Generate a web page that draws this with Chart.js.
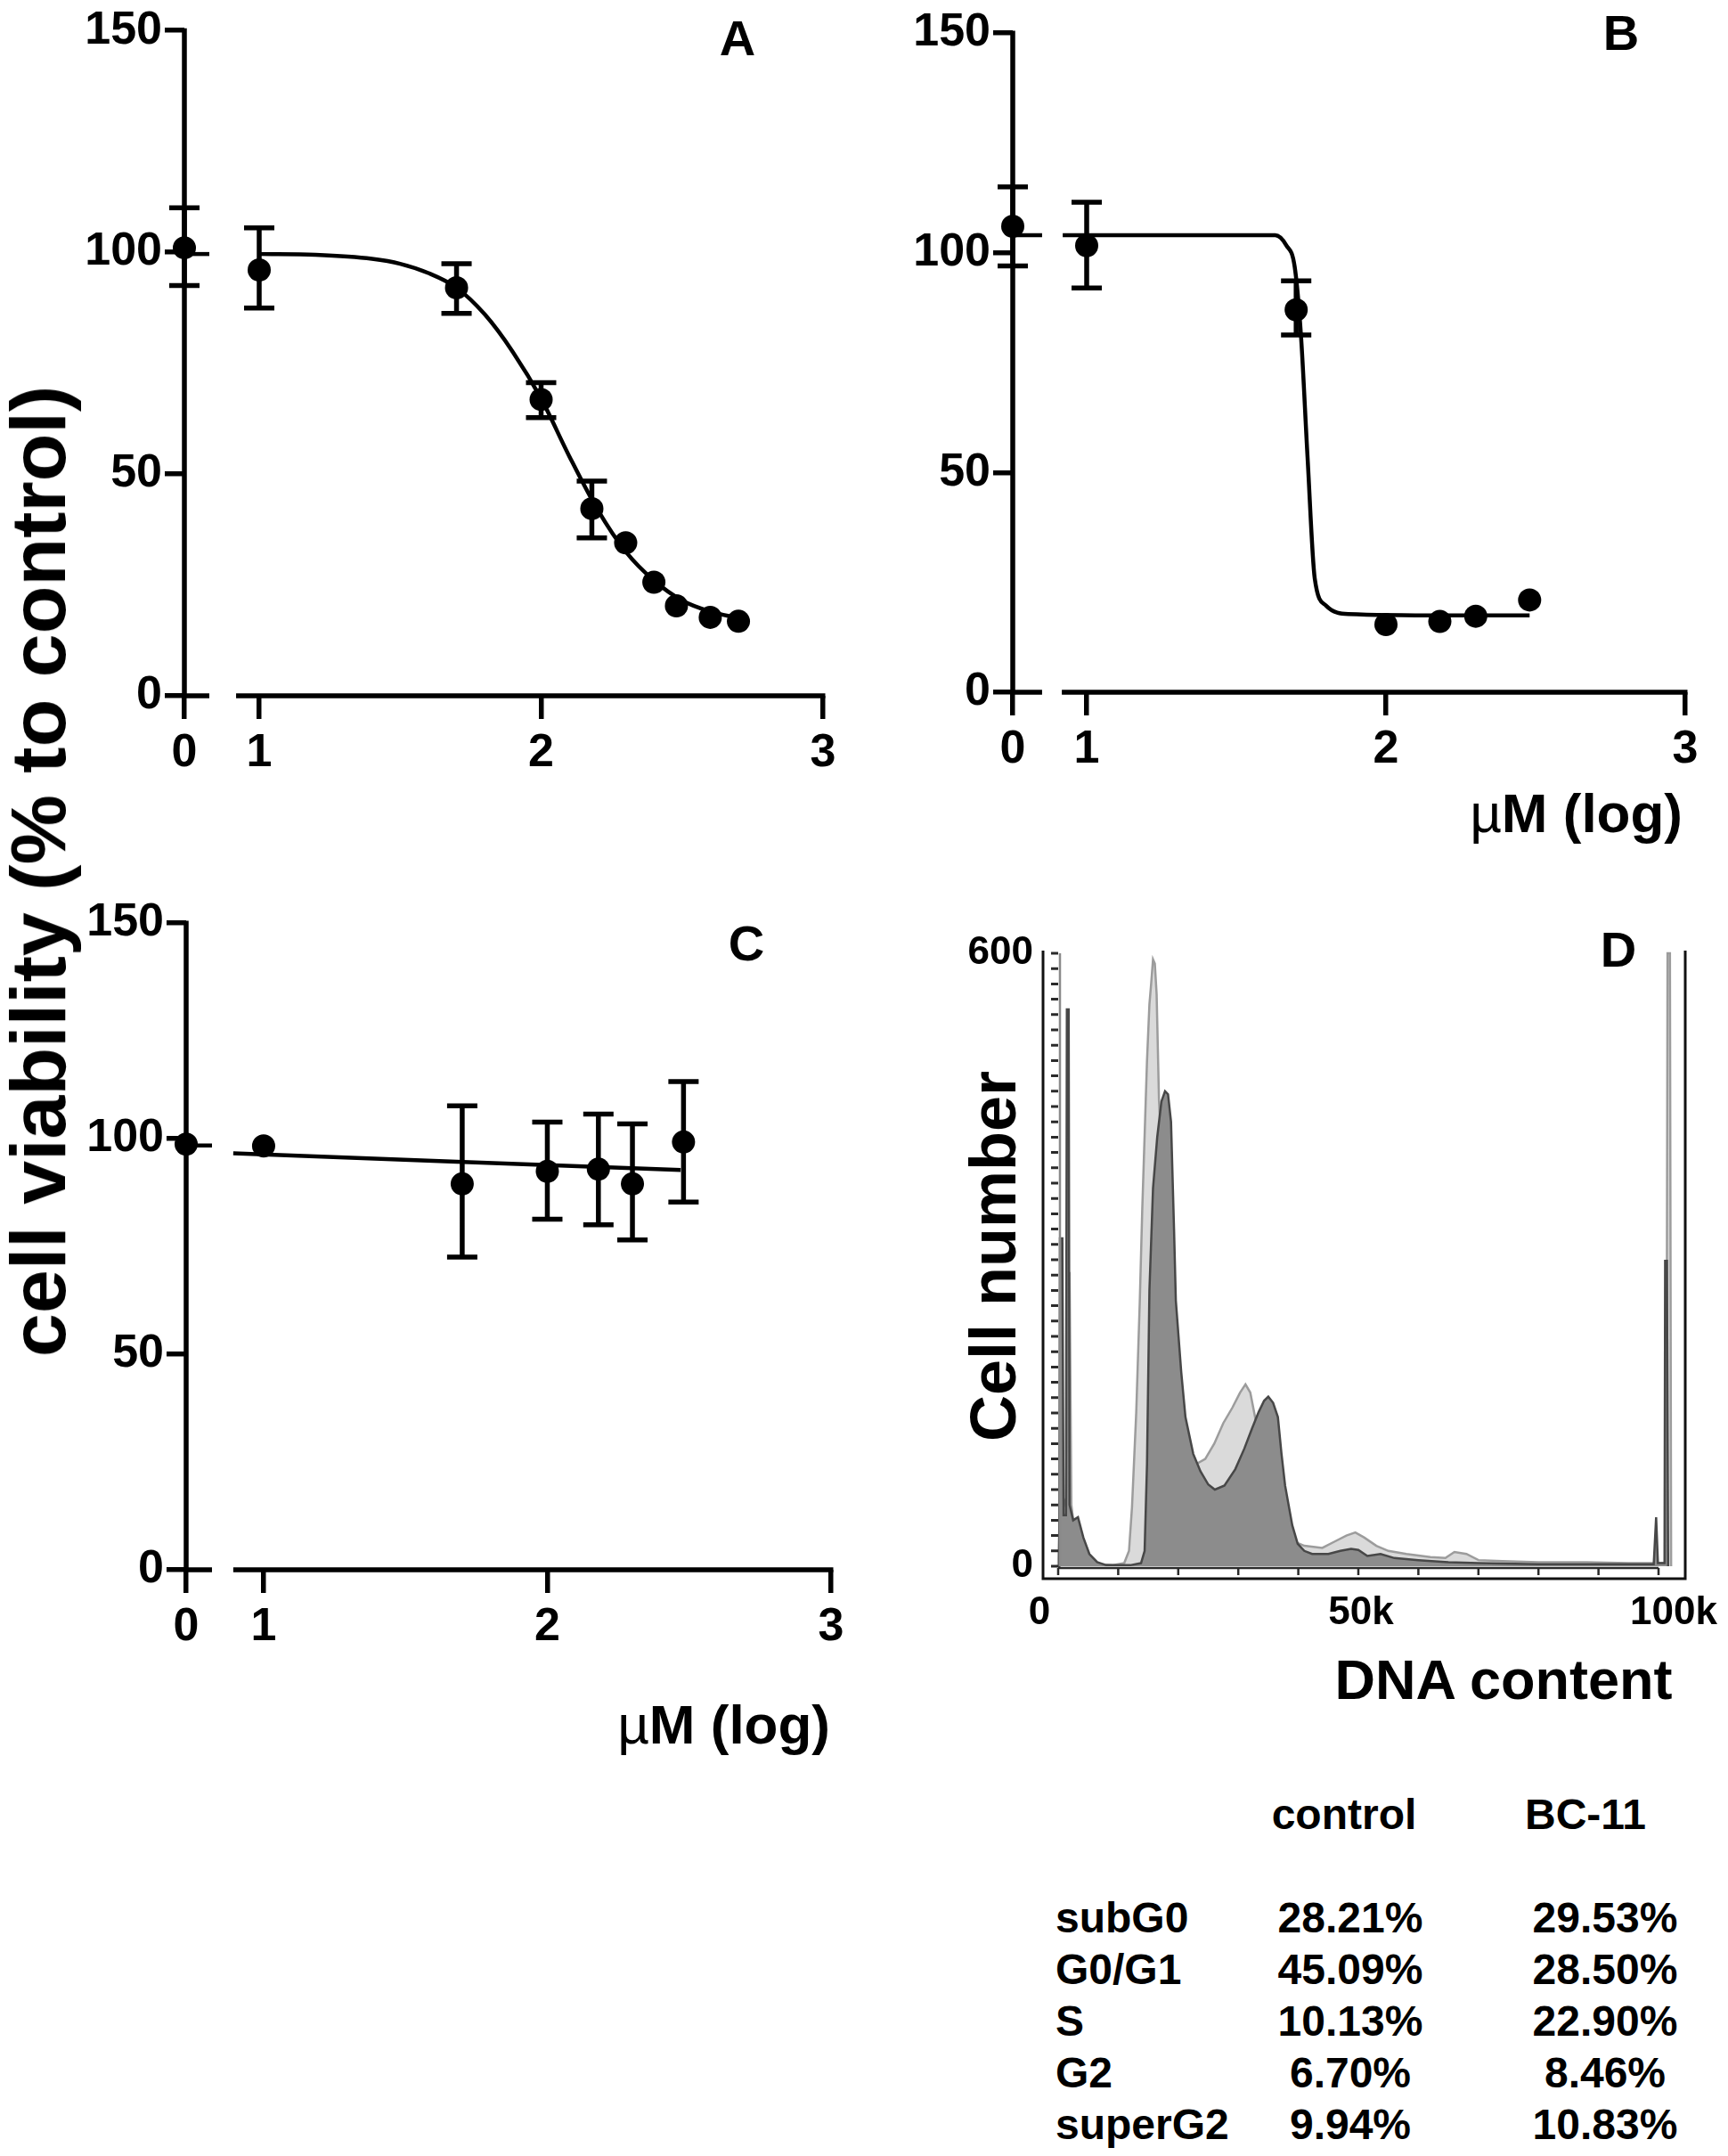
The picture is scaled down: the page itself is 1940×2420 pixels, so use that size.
<!DOCTYPE html>
<html>
<head>
<meta charset="utf-8">
<script src="https://cdn.jsdelivr.net/npm/chart.js@4.4.1/dist/chart.umd.min.js"></script>
<style>
html, body { margin: 0; padding: 0; background: #fff; }
#fig { position: relative; width: 1940px; height: 2420px; overflow: hidden;
       font-family: "Liberation Sans", Arial, sans-serif; font-weight: bold; color: #000; }
#fig canvas { position: absolute; }
.t { position: absolute; white-space: nowrap; line-height: 1; }
</style>
</head>
<body>
<div id="fig">
  <canvas id="cA" width="970" height="900" style="left:0;top:0"></canvas>
  <canvas id="cB" width="970" height="960" style="left:970px;top:0"></canvas>
  <canvas id="cC" width="970" height="1000" style="left:0;top:980px"></canvas>
  <canvas id="cD" width="860" height="880" style="left:1080px;top:1000px"></canvas>
</div>
<script>
// ---------- data ----------
// panel A  (x = log uM, 0 = untreated)
const doseA = [0, 1, 1.7, 2, 2.18, 2.3, 2.4, 2.48, 2.6, 2.7];
const viabA = [101, 96, 92, 66.8, 42.2, 34.5, 25.6, 20.3, 17.7, 16.8];
const hiA   = [110, 105.5, 97.4, 70.6, 48.4, null, null, null, null, null];
const loA   = [92.5, 87.4, 86.2, 62.7, 35.6, null, null, null, null, null];
const fitDoseA = [1.0, 1.2, 1.4, 1.5, 1.6, 1.7, 1.8, 1.9, 2.0, 2.1, 2.2, 2.3, 2.4, 2.5, 2.6, 2.7];
const fitViabA = [99.6, 99.4, 98.5, 97.4, 95.3, 92, 86, 77.5, 67, 54, 42, 32.5, 26, 21.5, 19, 17.5];
const fitZeroA = 99.6;

// panel B
const doseB = [0, 1, 1.7, 2, 2.18, 2.3, 2.48];
const viabB = [106, 101.6, 87, 15.4, 16.1, 17.3, 21];
const hiB   = [115, 111.5, 93.6, null, null, null, null];
const loB   = [97, 92, 81.3, null, null, null, null];
const fitDoseB = [0.92, 1.3, 1.63, 1.667, 1.695, 1.716, 1.738, 1.762, 1.8, 1.874, 2.2, 2.48];
const fitViabB = [104, 104, 104, 101.7, 96.8, 81.2, 53.5, 25.9, 19.7, 17.8, 17.5, 17.5];
const fitZeroB = 104;

// panel C
const doseC = [0, 1, 1.7, 2, 2.18, 2.3, 2.48];
const viabC = [98.7, 98.3, 89.5, 92.4, 92.9, 89.5, 99.2];
const hiC   = [null, null, 107.6, 103.8, 105.7, 103.4, 113.2];
const loC   = [null, null, 72.5, 81.3, 80, 76.5, 85.3];
const fitDoseC = [0.893, 2.47];
const fitViabC = [96.6, 92.7];
const fitZeroC = 98.4;

const viabTicks = [0, 50, 100, 150];
const doseTicks = [0, 1, 2, 3];

// panel D  histograms (x = DNA content in k, y = cell number)
const lightX = [0, 0.3, 0.5, 1.0, 1.5, 1.9, 2.2, 2.6, 3.3, 4.2, 5.5, 7, 9, 11, 11.8, 12.3, 13, 13.6, 14, 14.5,
  14.8, 15.2, 15.5, 15.8, 16.1, 16.4, 16.8, 17.3, 18, 19, 20, 21.5, 23, 24.5, 26, 27.5, 29, 30.3, 31.2, 32,
  33, 34, 35.5, 37, 39, 41, 44, 46, 48, 49.5, 51, 53, 55, 58, 62, 64.5, 66, 68, 70, 74, 80, 88, 95, 99.5,
  101.3, 101.5, 101.9, 102.1];
const lightY = [0, 60, 80, 60, 70, 288, 60, 40, 38, 20, 6, 2, 1, 3, 15, 58, 150, 260, 348, 440,
  495, 550, 571, 594, 590, 560, 455, 400, 320, 220, 160, 118, 100, 105, 120, 140, 155, 170, 178, 170,
  140, 100, 60, 38, 25, 20, 18, 24, 30, 33, 28, 20, 15, 12, 9, 8, 14, 12, 6, 5, 4, 4, 3, 3,
  3, 600, 600, 0];
const darkX = [0, 0.2, 0.3, 0.7, 0.9, 1.3, 1.45, 1.75, 1.9, 2.5, 3.3, 4.2, 5.2, 6.5, 8, 12, 13.8, 14.4, 14.8, 15.2,
  15.8, 16.5, 17.2, 17.8, 18.3, 18.8, 19.3, 19.6, 20.5, 21.2, 22.5, 23.7, 25, 26.1, 27.7, 29.5, 31, 32.3, 33.4, 34.3,
  35, 35.8, 36.6, 37.2, 37.8, 39, 39.9, 41, 42.3, 45, 47, 48.8, 50, 51.5, 53.7, 56, 60, 65, 70, 80,
  90, 99.2, 99.6, 99.9, 101, 101.1, 101.4, 101.6];
const darkY = [0, 0, 321, 321, 50, 50, 545, 545, 60, 45, 48, 28, 12, 4, 1, 1, 3, 15, 100, 270,
  370, 420, 455, 465, 462, 435, 330, 260, 190, 146, 110, 93, 80, 75, 79, 95, 115, 135, 151, 162,
  166, 160, 146, 110, 79, 40, 22, 15, 12, 12, 15, 17, 16, 10, 12, 8, 6, 4, 3, 2,
  2, 2, 48, 3, 3, 299, 299, 0];
const cellTicks = [0, 600];
const dnaTicks = [0, 50, 100];
const dnaTickText = ['0', '50k', '100k'];

// cell cycle table
const phases = ['subG0', 'G0/G1', 'S', 'G2', 'superG2'];
const pctControl = [28.21, 45.09, 10.13, 6.70, 9.94];
const pctBC11 = [29.53, 28.50, 22.90, 8.46, 10.83];

// ---------- drawing ----------
Chart.defaults.font.family = '"Liberation Sans", Arial, sans-serif';
Chart.defaults.color = '#000';

// broken x axis + error bars for the dose-response panels
const brokenAxes = {
  id: 'brokenAxes',
  beforeDatasetsDraw(chart, args, o) {
    const { ctx, scales: { x, y } } = chart;
    const y0 = y.getPixelForValue(0);
    const xa = x.getPixelForValue(o.xb);
    ctx.save();
    ctx.strokeStyle = '#000';
    ctx.lineWidth = 5.5;
    ctx.beginPath();
    ctx.moveTo(xa, y.getPixelForValue(150) - 2.5);
    ctx.lineTo(xa, y0);
    ctx.moveTo(xa, y0);
    ctx.lineTo(x.getPixelForValue(o.stub), y0);
    ctx.moveTo(x.getPixelForValue(o.main), y0);
    ctx.lineTo(x.getPixelForValue(3) + 2.5, y0);
    ctx.stroke();

    const ds = chart.data.datasets[0];
    ctx.lineWidth = 5.5;
    ctx.beginPath();
    ds.data.forEach((p, i) => {
      if (ds.hi[i] == null) return;
      const px = x.getPixelForValue(p.x);
      const ph = y.getPixelForValue(ds.hi[i]);
      const pl = y.getPixelForValue(ds.lo[i]);
      ctx.moveTo(px, ph); ctx.lineTo(px, pl);
      ctx.moveTo(px - 17, ph); ctx.lineTo(px + 17, ph);
      ctx.moveTo(px - 17, pl); ctx.lineTo(px + 17, pl);
    });
    ctx.stroke();
    ctx.restore();
  }
};

function makeDose(id, g, dose, viab, hi, lo, fitX, fitY, fit0) {
  const px = v => (v === 0 ? g.xb : v);
  const pts = dose.map((v, i) => ({ x: px(v), y: viab[i] }));
  const fit = fitX.map((v, i) => ({ x: v, y: fitY[i] }));
  const stub = [{ x: g.xb, y: fit0 }, { x: g.stub, y: fit0 }];
  const tickFont = { size: 52, weight: 'bold' };
  return new Chart(document.getElementById(id), {
    type: 'scatter',
    data: {
      datasets: [
        { data: pts, pointRadius: 13, pointHoverRadius: 13, pointBackgroundColor: '#000',
          pointBorderWidth: 0, clip: false, hi: hi, lo: lo },
        { data: fit, showLine: true, pointRadius: 0, borderColor: '#000', borderWidth: 4.5,
          cubicInterpolationMode: 'monotone', clip: false },
        { data: stub, showLine: true, pointRadius: 0, borderColor: '#000', borderWidth: 4.5, clip: false }
      ]
    },
    options: {
      responsive: false,
      animation: false,
      devicePixelRatio: 1,
      layout: { padding: { left: 0, top: g.top, right: g.w - g.right, bottom: 0 } },
      plugins: { legend: { display: false }, tooltip: { enabled: false }, brokenAxes: g },
      scales: {
        x: {
          type: 'linear', min: g.xb, max: 3,
          afterBuildTicks: s => { s.ticks = doseTicks.map(v => ({ value: px(v) })); },
          afterFit: s => { s.height = g.h - g.bottom; },
          ticks: { callback: v => (v === g.xb ? '0' : String(v)), font: tickFont,
                   padding: 7, maxRotation: 0, autoSkip: false },
          grid: { drawOnChartArea: false, tickLength: 26, lineWidth: 5.5, color: '#000' },
          border: { display: false }
        },
        y: {
          min: 0, max: 150,
          afterBuildTicks: s => { s.ticks = viabTicks.map(v => ({ value: v })); },
          afterFit: s => { s.width = g.left; },
          ticks: { font: tickFont, padding: 3 },
          grid: { drawOnChartArea: false, tickLength: 22, lineWidth: 5.5, color: '#000' },
          border: { display: false }
        }
      }
    },
    plugins: [brokenAxes]
  });
}

makeDose('cA', { w: 970, h: 900, left: 207, top: 34, right: 924, bottom: 781,
                 xb: 0.7346, stub: 0.823, main: 0.918 },
         doseA, viabA, hiA, loA, fitDoseA, fitViabA, fitZeroA);
makeDose('cB', { w: 970, h: 960, left: 167, top: 37, right: 922, bottom: 777,
                 xb: 0.753, stub: 0.851, main: 0.917 },
         doseB, viabB, hiB, loB, fitDoseB, fitViabB, fitZeroB);
makeDose('cC', { w: 970, h: 1000, left: 209, top: 56, right: 933, bottom: 782,
                 xb: 0.727, stub: 0.818, main: 0.893 },
         doseC, viabC, hiC, loC, fitDoseC, fitViabC, fitZeroC);

// flow cytometry frame and inner axes
const flowAxes = {
  id: 'flowAxes',
  afterDatasetsDraw(chart, args, o) {
    const { ctx, chartArea: ca, scales: { x, y } } = chart;
    ctx.save();
    ctx.strokeStyle = '#111';
    ctx.lineWidth = 3;
    ctx.beginPath();
    ctx.moveTo(ca.left, ca.top); ctx.lineTo(ca.left, ca.bottom);
    ctx.lineTo(ca.right, ca.bottom); ctx.lineTo(ca.right, ca.top);
    ctx.stroke();

    const yb = y.getPixelForValue(0) + 2;
    ctx.strokeStyle = '#2a2a2a';
    ctx.lineWidth = 2.5;
    ctx.beginPath();
    ctx.moveTo(x.getPixelForValue(0), yb); ctx.lineTo(x.getPixelForValue(100), yb);
    for (let v = 0; v <= 100; v += 10) {
      const p = x.getPixelForValue(v);
      ctx.moveTo(p, yb); ctx.lineTo(p, yb + 8);
    }
    ctx.stroke();

    const xl = x.getPixelForValue(0) + 2;
    ctx.strokeStyle = '#8a8a8a';
    ctx.lineWidth = 2.5;
    ctx.beginPath();
    ctx.moveTo(xl, y.getPixelForValue(0)); ctx.lineTo(xl, y.getPixelForValue(600));
    ctx.stroke();
    ctx.strokeStyle = '#2a2a2a';
    ctx.lineWidth = 3;
    ctx.beginPath();
    for (let v = 0; v <= 600; v += 15) {
      const p = y.getPixelForValue(v);
      ctx.moveTo(xl - 10, p); ctx.lineTo(xl - 2, p);
    }
    ctx.stroke();

    ctx.fillStyle = '#000';
    ctx.font = 'bold 44px "Liberation Sans", Arial, sans-serif';
    ctx.textAlign = 'center';
    ctx.textBaseline = 'middle';
    dnaTicks.forEach((v, i) => {
      ctx.fillText(dnaTickText[i], x.getPixelForValue(v) + o.shift[i], o.labelY);
    });
    ctx.restore();
  }
};

new Chart(document.getElementById('cD'), {
  type: 'scatter',
  data: {
    datasets: [
      { data: darkX.map((v, i) => ({ x: v, y: darkY[i] })), showLine: true, pointRadius: 0,
        borderColor: '#474747', borderWidth: 2.5, backgroundColor: '#8c8c8c', fill: 'origin' },
      { data: lightX.map((v, i) => ({ x: v, y: lightY[i] })), showLine: true, pointRadius: 0,
        borderColor: '#9c9c9c', borderWidth: 2.5, backgroundColor: '#dadada', fill: 'origin' }
    ]
  },
  options: {
    responsive: false,
    animation: false,
    devicePixelRatio: 1,
    layout: { padding: { left: 0, top: 67, right: 48, bottom: 0 } },
    plugins: { legend: { display: false }, tooltip: { enabled: false },
               flowAxes: { shift: [-21, 3, 17], labelY: 811 } },
    scales: {
      x: { type: 'linear', min: -2.52, max: 104.45,
           afterFit: s => { s.height = 108; },
           ticks: { display: false }, grid: { display: false, drawTicks: false },
           border: { display: false } },
      y: { min: -12.2, max: 602.6,
           afterBuildTicks: s => { s.ticks = cellTicks.map(v => ({ value: v })); },
           afterFit: s => { s.width = 91; },
           ticks: { font: { size: 44, weight: 'bold' }, padding: 11 },
           grid: { display: false, drawTicks: false },
           border: { display: false } }
    }
  },
  plugins: [flowAxes]
});

// ---------- text ----------
const fig = document.getElementById('fig');
function put(html, x, y, size, align, rotate) {
  const d = document.createElement('div');
  d.className = 't';
  d.innerHTML = html;
  d.style.fontSize = size + 'px';
  d.style.left = x + 'px';
  if (rotate) {
    d.style.top = y + 'px';
    d.style.transform = 'translate(-50%,-50%) rotate(-90deg)';
  } else {
    d.style.top = (y - 0.49 * size) + 'px';
    const tx = align === 'center' ? '-50%' : align === 'right' ? '-100%' : '0';
    d.style.transform = 'translateX(' + tx + ')';
  }
  fig.appendChild(d);
}
const mu = '<span style="font-weight:normal">\u00b5</span>M (log)';
put('A', 828, 42, 56, 'center');
put('B', 1820, 36, 56, 'center');
put('C', 838, 1058, 56, 'center');
put('D', 1817, 1065, 56, 'center');
put(mu, 1889, 912, 62, 'right');
put(mu, 932, 1935, 62, 'right');
put('cell viability (% to control)', 43, 978, 88, 'center', true);
put('Cell number', 1115, 1410, 72, 'center', true);
put('DNA content', 1688, 1885, 63, 'center');

put('control', 1509, 2037, 48, 'center');
put('BC-11', 1780, 2037, 48, 'center');
phases.forEach((p, i) => {
  const yc = 2153 + i * 58;
  put(p, 1185, yc, 48, 'left');
  put(pctControl[i].toFixed(2) + '%', 1516, yc, 48, 'center');
  put(pctBC11[i].toFixed(2) + '%', 1802, yc, 48, 'center');
});
</script>
</body>
</html>
